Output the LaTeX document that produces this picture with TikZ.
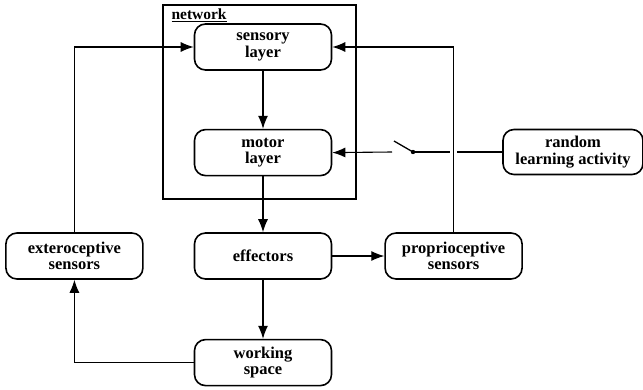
\documentclass[tikz,border=0pt]{standalone}
\usepackage{fontspec}
\setmainfont{Liberation Serif}
\usetikzlibrary{positioning}
\usetikzlibrary{arrows.meta}
\tikzset{x=1pt, y=-1pt, % One unit per pixel, y running down
  node distance=58pt,
  every node/.style={align=center},
  block/.style={ % Sets the properties for each box
    draw, line width=1.6pt,
    rounded corners=11pt,
    minimum width=137pt, minimum height=46pt, inner sep=2pt,
    font=\bfseries\fontsize{16.5}{16.5}\selectfont},
  link/.style={ % Elbow connectors
    -{Latex[length=13pt,width=10pt]}, line width=1.1pt},
  every edge/.style={ % Sets the properties for each straight connector
    draw, link}}

\begin{document}
\begin{tikzpicture}
  \useasboundingbox (0,0) rectangle (643,389);

  % the network
  \node [draw, line width=1.4pt, minimum width=193pt, minimum height=194pt, inner sep=0pt] (network) at (259.5,102) {};
  \node [anchor=north west, inner sep=1pt, font=\bfseries\fontsize{15.5}{15.5}\selectfont]
    (netlabel) at ([xshift=8pt,yshift=-3pt]network.north west) {\underline{network}};

  \node [block] (sensory) at (263,47) {sensory\\layer};
  \node [block, below=of sensory] (motor) {motor\\layer};

  % body and world
  \node [block] (effectors) at (263,256) {effectors};
  \node [block, below=59pt of effectors] (working) {working\\space};
  \node [block, left=50pt of effectors] (extero) {exteroceptive\\sensors};
  \node [block, right=52pt of effectors] (proprio) {proprioceptive\\sensors};
  \node [block, minimum width=140pt, minimum height=45pt] (random) at (573,152) {random\\learning activity};

  % switch
  \coordinate (swin) at (392,152);
  \coordinate (swpivot) at (413,152);
  \coordinate (swtip) at (394,141);
  \coordinate (cross) at (proprio.north |- random.west);

  \draw (sensory) edge (motor);
  \draw (motor) edge (effectors);
  \draw (effectors) edge (working);
  \draw (effectors) edge (proprio);
  \draw [link] (extero.north) |- (sensory.west);
  \draw [link] (working.west) -| (extero.south);

  \draw [line width=1.1pt] (random.west) -- (swpivot);
  \draw [line width=1.3pt] (swpivot) -- (swtip);
  \fill (swpivot) circle (2.2pt);
  \draw (swin) edge (motor.east);

  \draw [white, line width=7pt] ([yshift=6pt]cross) -- ([yshift=-6pt]cross);
  \draw [link] (proprio.north) |- (sensory.east);
\end{tikzpicture}
\end{document}
